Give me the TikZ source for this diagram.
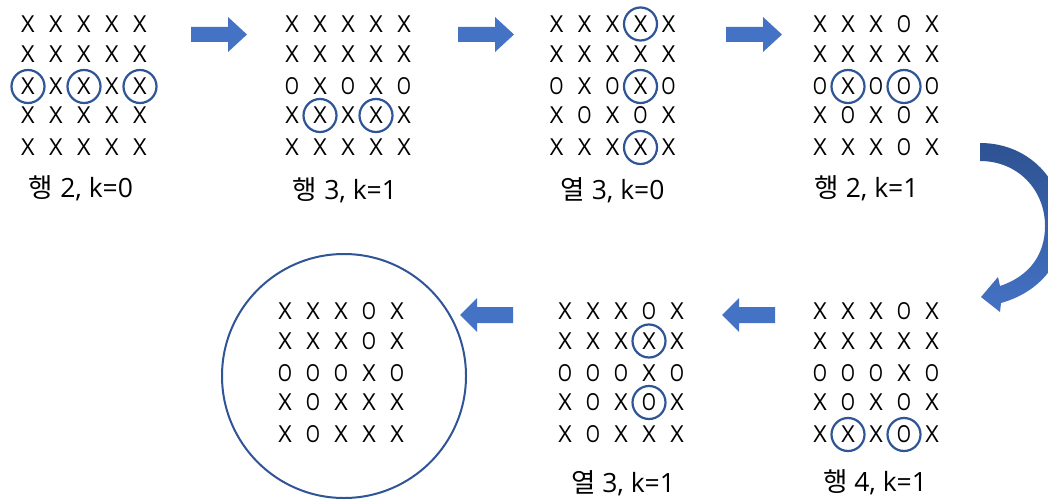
\documentclass[tikz,border=0pt]{standalone}
\usepackage{fontspec}
\newfontfamily\latinf{Open Sans}
\newfontfamily\kr{Noto Sans CJK KR}
\definecolor{arrowblue}{HTML}{4472C4}
\definecolor{ringblue}{HTML}{2F5597}
\definecolor{deepblue}{HTML}{2E5292}

% the two marks of a board
\def\markx{X}
\def\marko{\scalebox{0.78}[1]{O}}

% one 5x5 board of X/O marks: #1 name, #2 first column x, #3 vertical offset, #4 rows
\newcommand\tgrid[4]{%
  \foreach \line [count=\r] in {#4} {
    \pgfmathsetmacro\yy{{24,54,86.5,115.5,147.5}[\r-1]+#3}
    \foreach \ch [count=\c] in \line {
      \node[cell] (#1-\r-\c) at ({#2+28*(\c-1)},\yy) {\csname mark\ch\endcsname};
    }
  }%
}
% block arrows: #1 tip x, #2 centre y
\newcommand\rightblock[2]{%
  \fill[blockfill] (#1,#2) -- ++(-19,-17.5) -- ++(0,10) -- ++(-37,0) -- ++(0,15)
    -- ++(37,0) -- ++(0,10) -- cycle;}
\newcommand\leftblock[2]{%
  \fill[blockfill] (#1,#2) -- ++(17,-17) -- ++(0,9) -- ++(36,0) -- ++(0,16)
    -- ++(-36,0) -- ++(0,9) -- cycle;}

\begin{document}
\begin{tikzpicture}[x=1pt,y=-1pt,
  cell/.style={inner sep=0pt, anchor=center, text height=16.7pt, text depth=0pt,
    font=\latinf\fontsize{23.4}{28}\selectfont},
  ring/.style={circle, draw=ringblue, line width=2.2pt, minimum size=33pt, inner sep=0pt},
  caption/.style={inner sep=0pt, anchor=base, font=\fontsize{26.5}{30}\selectfont},
  blockfill/.style={fill=arrowblue},
  bigring/.style={circle, draw=ringblue, line width=2pt, minimum size=244pt, inner sep=0pt}]

\fill[white] (0,0) rectangle (1048,500);
\useasboundingbox (0,0) rectangle (1048,500);

% top row of boards
\tgrid{ga}{28}{0}{{x,x,x,x,x},{x,x,x,x,x},{x,x,x,x,x},{x,x,x,x,x},{x,x,x,x,x}}
\tgrid{gb}{292}{0}{{x,x,x,x,x},{x,x,x,x,x},{o,x,o,x,o},{x,x,x,x,x},{x,x,x,x,x}}
\tgrid{gc}{556.5}{0}{{x,x,x,x,x},{x,x,x,x,x},{o,x,o,x,o},{x,o,x,o,x},{x,x,x,x,x}}
\tgrid{gd}{820}{0}{{x,x,x,o,x},{x,x,x,x,x},{o,x,o,o,o},{x,o,x,o,x},{x,x,x,o,x}}

% bottom row of boards
\tgrid{ge}{820}{287}{{x,x,x,o,x},{x,x,x,x,x},{o,o,o,x,o},{x,o,x,o,x},{x,x,x,o,x}}
\tgrid{gf}{565}{287}{{x,x,x,o,x},{x,x,x,x,x},{o,o,o,x,o},{x,o,x,o,x},{x,o,x,x,x}}
\tgrid{gg}{285}{287}{{x,x,x,o,x},{x,x,x,o,x},{o,o,o,x,o},{x,o,x,x,x},{x,o,x,x,x}}

% highlighted cells
\node[ring] (ra1) at (ga-3-1) {};
\node[ring] (ra2) at (ga-3-3) {};
\node[ring] (ra3) at (ga-3-5) {};
\node[ring] (rb1) at (gb-4-2) {};
\node[ring] (rb2) at (gb-4-4) {};
\node[ring] (rc1) at (gc-1-4) {};
\node[ring] (rc2) at (gc-3-4) {};
\node[ring] (rc3) at (gc-5-4) {};
\node[ring] (rd1) at (gd-3-2) {};
\node[ring] (rd2) at (gd-3-4) {};
\node[ring] (re1) at (ge-5-2) {};
\node[ring] (re2) at (ge-5-4) {};
\node[ring] (rf1) at (gf-2-4) {};
\node[ring] (rf2) at (gf-4-4) {};

% final board inside a large circle
\node[bigring] (final) at (344,376) {};

% captions
\node[caption] (la) at (81,197)    {\kr 행\latinf{} 2, k=0};
\node[caption] (lb) at (345,199)   {\kr 행\latinf{} 3, k=1};
\node[caption] (lc) at (612.5,199) {\kr 열\latinf{} 3, k=0};
\node[caption] (ld) at (866.5,197) {\kr 행\latinf{} 2, k=1};
\node[caption] (lf) at (623,492)   {\kr 열\latinf{} 3, k=1};
\node[caption] (le) at (875,491)   {\kr 행\latinf{} 4, k=1};

% step arrows
\rightblock{247}{34.5}
\rightblock{514}{34.5}
\rightblock{782}{34.5}
\leftblock{460}{315}
\leftblock{722}{315}

% curved arrow turning down to the second row
\shade[top color=deepblue, bottom color=arrowblue]
  (980,143) .. controls (1030,143) and (1064,182) .. (1064,226)
  .. controls (1064,262) and (1040,292) .. (1001,303)
  -- (1000,312) -- (981,297) -- (998,277) -- (1000,286)
  .. controls (1030,276) and (1045,254) .. (1045,226)
  .. controls (1045,190) and (1018,161) .. (980,161) -- cycle;
\end{tikzpicture}
\end{document}
